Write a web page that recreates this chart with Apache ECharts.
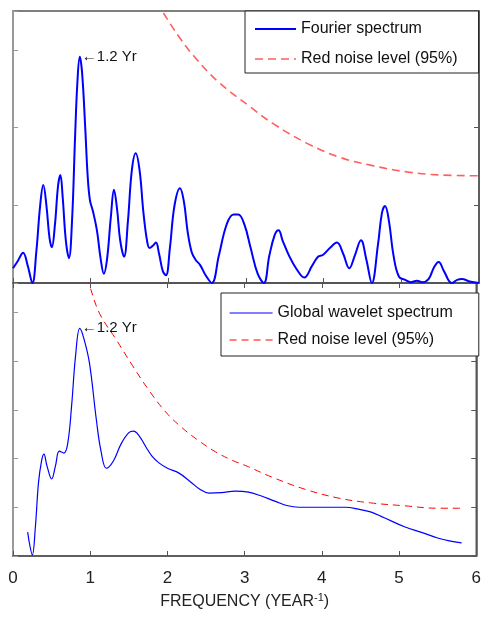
<!DOCTYPE html>
<html>
<head>
<meta charset="utf-8">
<script src="https://cdn.jsdelivr.net/npm/echarts@6/dist/echarts.min.js"></script>
<style>
  html, body { margin: 0; padding: 0; background: #fff; }
  #chart { width: 484px; height: 628px; }
</style>
</head>
<body>
<div id="chart"></div>
<script>
// Fourier power spectrum (upper panel)
const fourierFreq = [0.00, 0.06, 0.13, 0.19, 0.25, 0.30, 0.35, 0.39, 0.43, 0.47, 0.50, 0.54, 0.58, 0.61, 0.64, 0.68, 0.72, 0.76, 0.80, 0.83, 0.86, 0.89, 0.93, 0.96, 0.99, 1.03, 1.08, 1.13, 1.17, 1.21, 1.26, 1.30, 1.34, 1.38, 1.43, 1.48, 1.53, 1.58, 1.63, 1.68, 1.73, 1.76, 1.80, 1.84, 1.88, 1.93, 1.97, 2.02, 2.08, 2.15, 2.20, 2.25, 2.30, 2.35, 2.41, 2.48, 2.56, 2.65, 2.75, 2.84, 2.90, 2.98, 3.06, 3.15, 3.23, 3.30, 3.37, 3.42, 3.47, 3.56, 3.65, 3.75, 3.85, 3.93, 3.99, 4.08, 4.17, 4.25, 4.33, 4.40, 4.48, 4.55, 4.62, 4.70, 4.75, 4.79, 4.84, 4.90, 4.97, 5.05, 5.12, 5.20, 5.27, 5.35, 5.42, 5.48, 5.55, 5.65, 5.72, 5.78, 5.88, 6.00];
const fourierPower = [0.19, 0.28, 0.39, 0.22, 0.00, 0.40, 1.00, 1.26, 1.00, 0.58, 0.46, 0.75, 1.25, 1.39, 1.10, 0.55, 0.32, 0.80, 1.90, 2.60, 2.91, 2.70, 2.00, 1.40, 1.07, 0.92, 0.68, 0.30, 0.12, 0.30, 0.85, 1.20, 0.95, 0.55, 0.34, 0.80, 1.45, 1.67, 1.45, 0.90, 0.52, 0.45, 0.48, 0.52, 0.38, 0.15, 0.10, 0.45, 1.00, 1.22, 1.05, 0.65, 0.40, 0.30, 0.23, 0.10, 0.00, 0.35, 0.75, 0.88, 0.88, 0.75, 0.45, 0.12, 0.00, 0.35, 0.62, 0.68, 0.55, 0.34, 0.18, 0.07, 0.22, 0.34, 0.36, 0.45, 0.52, 0.38, 0.19, 0.35, 0.55, 0.30, 0.00, 0.50, 0.90, 0.99, 0.80, 0.35, 0.08, 0.04, 0.01, 0.03, 0.01, 0.05, 0.20, 0.27, 0.15, 0.00, 0.04, 0.05, 0.02, 0.00];
const fourierNoiseFreq = [1.85, 1.92, 2.15, 2.32, 2.63, 3.05, 3.35, 3.78, 4.20, 4.63, 5.07, 5.50, 6.00];
const fourierNoise = [3.62, 3.50, 3.15, 2.93, 2.60, 2.27, 2.05, 1.80, 1.62, 1.51, 1.43, 1.39, 1.38];

// Global wavelet spectrum (lower panel)
const waveletFreq = [0.19, 0.22, 0.25, 0.29, 0.33, 0.37, 0.40, 0.44, 0.50, 0.55, 0.60, 0.66, 0.71, 0.76, 0.81, 0.865, 0.92, 0.99, 1.08, 1.14, 1.21, 1.30, 1.40, 1.50, 1.56, 1.64, 1.72, 1.80, 1.89, 2.00, 2.15, 2.30, 2.42, 2.54, 2.70, 2.88, 3.05, 3.20, 3.40, 3.56, 3.70, 3.86, 4.10, 4.30, 4.50, 4.64, 4.80, 5.07, 5.30, 5.50, 5.65, 5.81];
const waveletPower = [0.49, 0.20, 0.02, 0.60, 1.50, 1.95, 2.09, 1.85, 1.58, 1.85, 2.15, 2.11, 2.32, 3.10, 4.10, 4.67, 4.45, 3.96, 2.79, 2.15, 1.80, 1.95, 2.30, 2.53, 2.56, 2.45, 2.24, 2.05, 1.91, 1.80, 1.70, 1.52, 1.37, 1.29, 1.30, 1.33, 1.31, 1.24, 1.12, 1.03, 1.00, 1.00, 1.00, 1.00, 0.95, 0.90, 0.79, 0.60, 0.48, 0.37, 0.31, 0.27];
const waveletNoiseFreq = [0.90, 0.98, 1.12, 1.34, 1.55, 1.76, 1.98, 2.19, 2.41, 2.62, 2.83, 3.05, 3.35, 3.78, 4.21, 4.63, 5.07, 5.50, 5.81];
const waveletNoise = [5.95, 5.60, 4.98, 4.43, 3.90, 3.40, 2.95, 2.63, 2.36, 2.14, 1.97, 1.83, 1.62, 1.37, 1.19, 1.09, 1.03, 0.98, 0.98];

const xTickLabels = ['0', '1', '2', '3', '4', '5', '6'];

const zip = (xs, ys) => xs.map((x, i) => [x, ys[i]]);
const peakFreq = (xs, ys) => xs[ys.indexOf(Math.max(...ys))];
const periodLabel = f => '\u2190' + (1 / f).toFixed(1) + ' Yr';

const FONT = "'Liberation Sans', Arial, sans-serif";
const AXIS_DARK = '#555';
const AXIS_LEFT = '#999';

function xAxisBase(gridIndex) {
  return {
    type: 'value', gridIndex, min: 0, max: 6, interval: 1,
    axisLine: { show: true, onZero: false, lineStyle: { color: AXIS_DARK, width: 1.5 } },
    axisTick: { show: true, inside: true, length: 5, lineStyle: { color: AXIS_DARK } },
    axisLabel: { show: false },
    splitLine: { show: false }
  };
}
function yAxisBase(gridIndex, max, position, color) {
  return {
    type: 'value', gridIndex, min: 0, max, interval: 1, position,
    axisLine: { show: true, onZero: false, lineStyle: { color, width: position === 'left' ? 2 : 1.5 } },
    axisTick: { show: true, inside: true, length: 5, lineStyle: { color } },
    axisLabel: { show: false },
    splitLine: { show: false }
  };
}

// legend entries show only the line sample, no marker
const noMarker = { color: 'rgba(0,0,0,0)', borderColor: 'rgba(0,0,0,0)', borderWidth: 0, opacity: 0 };

const chart = echarts.init(document.getElementById('chart'), null, { renderer: 'canvas' });

const markLabel = (xs, ys) => ({
  symbol: 'circle',
  symbolSize: 2,
  silent: true,
  itemStyle: { color: 'rgba(0,0,0,0)' },
  data: [{ type: 'max' }],
  label: {
    show: true, position: 'right', distance: 1,
    formatter: () => periodLabel(peakFreq(xs, ys)),
    color: '#111', fontFamily: FONT, fontSize: 15
  }
});

chart.setOption({
  animation: false,
  backgroundColor: '#fff',
  textStyle: { fontFamily: FONT },
  grid: [
    { left: 13, right: 5, top: 11, height: 272, show: true, borderColor: AXIS_DARK, borderWidth: 1.5, backgroundColor: 'transparent' },
    { left: 13, right: 5, top: 283, bottom: 72, show: true, borderColor: AXIS_DARK, borderWidth: 1.5, backgroundColor: 'transparent' }
  ],
  xAxis: [
    xAxisBase(0),
    Object.assign(xAxisBase(1), {
      axisLabel: {
        show: true, color: '#222', fontFamily: FONT, fontSize: 17, margin: 14,
        formatter: v => xTickLabels[Math.round(v)]
      },
      name: 'FREQUENCY (YEAR{sup|-1})',
      nameLocation: 'middle',
      nameGap: 36,
      nameTextStyle: {
        color: '#222', fontFamily: FONT, fontSize: 16,
        rich: { sup: { fontFamily: FONT, fontSize: 11, verticalAlign: 'top', padding: [0, 0, 9, 0], color: '#222' } }
      }
    }),
    Object.assign(xAxisBase(1), { position: 'top' })
  ],
  yAxis: [
    yAxisBase(0, 3.5, 'left', AXIS_LEFT),
    yAxisBase(0, 3.5, 'right', AXIS_DARK),
    yAxisBase(1, 5.6, 'left', AXIS_LEFT),
    yAxisBase(1, 5.6, 'right', AXIS_DARK)
  ],
  legend: [
    {
      orient: 'vertical', left: 245, top: 11,
      padding: [10, 21, 6, 9], itemGap: 14, itemWidth: 41, itemHeight: 20,
      borderColor: '#222', borderWidth: 1, backgroundColor: '#fff',
      textStyle: { fontFamily: FONT, fontSize: 16, color: '#111' },
      data: [
        { name: 'Fourier spectrum', itemStyle: noMarker, lineStyle: { color: '#0000ff', width: 2, type: 'solid' } },
        { name: 'Red noise level (95%)', itemStyle: noMarker, lineStyle: { color: '#ff5f5f', width: 1.6, type: [8, 5] } }
      ]
    },
    {
      orient: 'vertical', left: 221, top: 293,
      padding: [12, 26, 8, 8], itemGap: 11, itemWidth: 43, itemHeight: 20,
      borderColor: '#222', borderWidth: 1, backgroundColor: '#fff',
      textStyle: { fontFamily: FONT, fontSize: 16, color: '#111' },
      data: [
        { name: 'Global wavelet spectrum', itemStyle: noMarker, lineStyle: { color: '#0000ff', width: 1.2, type: 'solid' } },
        { name: 'Red noise level (95%)', itemStyle: noMarker, lineStyle: { color: '#ff0000', width: 1, type: [7, 5] } }
      ]
    }
  ],
  series: [
    {
      name: 'Fourier spectrum', type: 'line', xAxisIndex: 0, yAxisIndex: 0,
      data: zip(fourierFreq, fourierPower), smooth: 0.4, symbol: 'none', clip: true,
      lineStyle: { color: '#0000ff', width: 2 }, itemStyle: { color: '#0000ff' },
      markPoint: markLabel(fourierFreq, fourierPower), z: 3
    },
    {
      name: 'Red noise level (95%)', type: 'line', xAxisIndex: 0, yAxisIndex: 0,
      data: zip(fourierNoiseFreq, fourierNoise), smooth: 0.4, symbol: 'none', clip: true,
      lineStyle: { color: '#ff5f5f', width: 1.6, type: [8, 5] }, itemStyle: { color: '#ff5f5f' }, z: 2
    },
    {
      name: 'Global wavelet spectrum', type: 'line', xAxisIndex: 1, yAxisIndex: 2,
      data: zip(waveletFreq, waveletPower), smooth: 0.4, symbol: 'none', clip: true,
      lineStyle: { color: '#0000ff', width: 1.2 }, itemStyle: { color: '#0000ff' },
      markPoint: markLabel(waveletFreq, waveletPower), z: 3
    },
    {
      name: 'Red noise level (95%)', type: 'line', xAxisIndex: 1, yAxisIndex: 2,
      data: zip(waveletNoiseFreq, waveletNoise), smooth: 0.4, symbol: 'none', clip: true,
      lineStyle: { color: '#ff0000', width: 1, type: [7, 5] }, itemStyle: { color: '#ff0000' }, z: 2
    }
  ]
});
</script>
</body>
</html>
